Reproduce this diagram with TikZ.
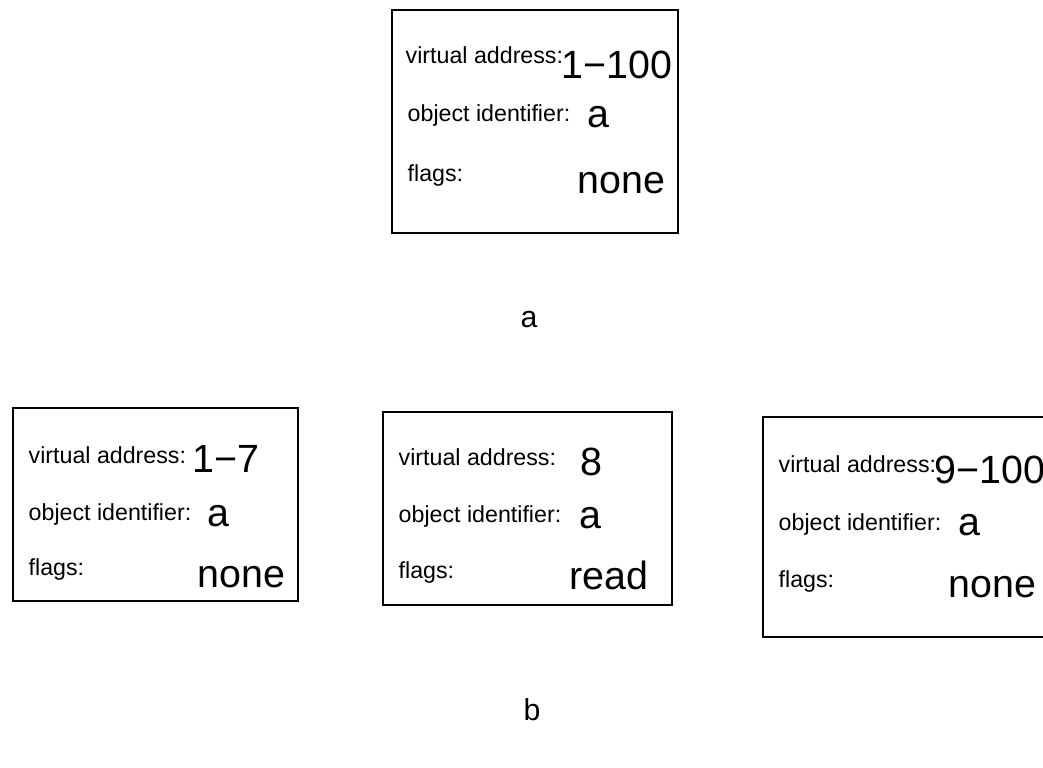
\documentclass[tikz,border=0pt]{standalone}
\usepackage{fontspec}
\setmainfont{Liberation Sans}
\begin{document}
\begin{tikzpicture}
	[x=0.01cm,y=-0.01cm,
	entry/.style={draw,semithick,inner sep=0pt},
	field/.style={anchor=base west,inner sep=0pt,
		font=\fontsize{6.6pt}{8pt}\selectfont},
	value/.style={anchor=base west,inner sep=0pt,
		font=\fontsize{11.2pt}{13pt}\selectfont},
	caption/.style={anchor=base west,inner sep=0pt,
		font=\fontsize{8.6pt}{10pt}\selectfont}]
	\useasboundingbox (0,0) rectangle (1043,767);
	\clip (0,0) rectangle (1043,767);
	% a: one entry
	\node[entry,minimum width=2.86cm,minimum height=2.23cm] (whole) at (535,121.5) {};
	\node[field] (whole va) at (405,64) {virtual address:};
	\node[value] (whole vav) at (561,79) {1−100};
	\node[field] (whole oi) at (407,122) {object identifier:};
	\node[value] (whole oiv) at (587,128) {a};
	\node[field] (whole fl) at (407,182) {flags:};
	\node[value] (whole flv) at (577,193) {none};
	\node[caption] (capa) at (520,327) {a};
	% b: split in three
	\node[entry,minimum width=2.85cm,minimum height=1.93cm] (left) at (155.5,504.5) {};
	\node[field] (left va) at (28,463) {virtual address:};
	\node[value] (left vav) at (192,472) {1−7};
	\node[field] (left oi) at (28,520) {object identifier:};
	\node[value] (left oiv) at (207,526) {a};
	\node[field] (left fl) at (28,575) {flags:};
	\node[value] (left flv) at (197,587) {none};
	\node[entry,minimum width=2.89cm,minimum height=1.93cm] (mid) at (527.5,508.5) {};
	\node[field] (mid va) at (398,465) {virtual address:};
	\node[value] (mid vav) at (580,475) {8};
	\node[field] (mid oi) at (398,522) {object identifier:};
	\node[value] (mid oiv) at (579,528) {a};
	\node[field] (mid fl) at (398,578) {flags:};
	\node[value] (mid flv) at (569,589) {read};
	\node[entry,minimum width=3cm,minimum height=2.2cm] (right) at (913,527) {};
	\node[field] (right va) at (778,472) {virtual address:};
	\node[value] (right vav) at (934,483) {9−100};
	\node[field] (right oi) at (778,530) {object identifier:};
	\node[value] (right oiv) at (958,535) {a};
	\node[field] (right fl) at (778,587) {flags:};
	\node[value] (right flv) at (948,597) {none};
	\node[caption] (capb) at (523,720) {b};
\end{tikzpicture}
\end{document}
